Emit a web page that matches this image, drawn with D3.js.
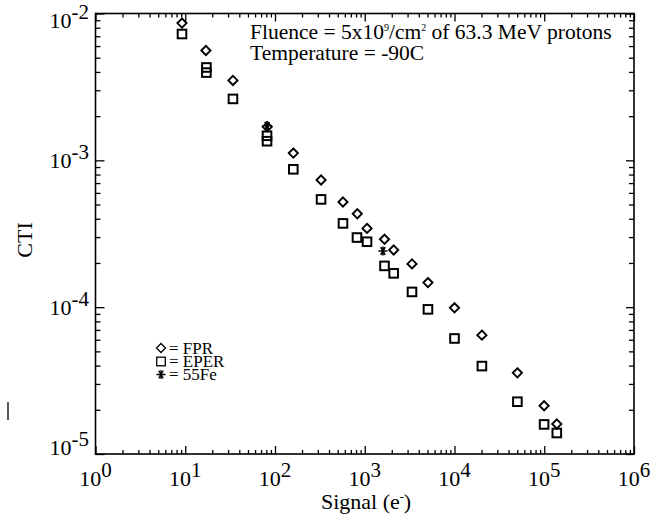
<!DOCTYPE html>
<html><head><meta charset="utf-8">
<script src="https://cdn.jsdelivr.net/npm/d3@7"></script>
<style>
html,body{margin:0;padding:0;background:#fff;}
svg{display:block;}
text{font-family:"Liberation Serif","DejaVu Serif",serif;fill:#000;}
</style></head>
<body>
<svg id="chart" width="663" height="516"></svg>
<script>
// ---- data ----
const fprSignal = [9.2, 17, 34, 82, 160, 326, 572, 826, 1060, 1660, 2100, 3360, 5060, 10000, 20200, 50200, 99600, 138000];
const fprCTI    = [8.6e-3, 5.6e-3, 3.5e-3, 1.69e-3, 1.12e-3, 7.35e-4, 5.2e-4, 4.33e-4, 3.44e-4, 2.9e-4, 2.45e-4, 1.97e-4, 1.47e-4, 9.9e-5, 6.45e-5, 3.57e-5, 2.13e-5, 1.6e-5];
const eperSignal = [9.2, 17.2, 17.2, 34, 81.5, 81.5, 160, 326, 572, 819, 1060, 1660, 2100, 3360, 5060, 10000, 20200, 50200, 99600, 138000];
const eperCTI    = [7.25e-3, 4.29e-3, 3.96e-3, 2.62e-3, 1.47e-3, 1.35e-3, 8.69e-4, 5.42e-4, 3.72e-4, 2.98e-4, 2.79e-4, 1.91e-4, 1.70e-4, 1.27e-4, 9.66e-5, 6.12e-5, 3.97e-5, 2.27e-5, 1.59e-5, 1.39e-5];
const feSignal = [81.5, 1595];
const feCTI    = [1.72e-3, 2.41e-4];
const xTickExp = [0, 1, 2, 3, 4, 5, 6];
const yTickExp = [-2, -3, -4, -5];
const legendLabels = ["= FPR", "= EPER", "= 55Fe"];

// ---- layout ----
const svg = d3.select("#chart");
const L = 95.5, R = 634, T = 13.5, B = 454;
const x = d3.scaleLog().domain([1, 1e6]).range([L, R]);
const y = d3.scaleLog().domain([1e-5, 1e-2]).range([B, T]);

const xMajor = xTickExp.map(e => Math.pow(10, e));
const xMinor = [];
for (let e = 0; e < 6; e++) for (let k = 2; k <= 9; k++) xMinor.push(k * Math.pow(10, e));
const yMajor = yTickExp.map(e => Math.pow(10, e));
const yMinor = [];
for (let e = -5; e < -2; e++) for (let k = 2; k <= 9; k++) yMinor.push(k * Math.pow(10, e));

function styleAxis(g) {
  g.selectAll(".domain").remove();
  g.selectAll(".tick line").attr("stroke", "#000").attr("stroke-width", 1.3);
  g.selectAll(".tick text").remove();
}
// bottom
svg.append("g").attr("transform", `translate(0,${B})`).call(d3.axisBottom(x).tickValues(xMajor).tickSize(-8).tickFormat("")).call(styleAxis);
svg.append("g").attr("transform", `translate(0,${B})`).call(d3.axisBottom(x).tickValues(xMinor).tickSize(-4).tickFormat("")).call(styleAxis);
// top
svg.append("g").attr("transform", `translate(0,${T})`).call(d3.axisTop(x).tickValues(xMajor).tickSize(-8).tickFormat("")).call(styleAxis);
svg.append("g").attr("transform", `translate(0,${T})`).call(d3.axisTop(x).tickValues(xMinor).tickSize(-4).tickFormat("")).call(styleAxis);
// left
svg.append("g").attr("transform", `translate(${L},0)`).call(d3.axisLeft(y).tickValues(yMajor).tickSize(-9).tickFormat("")).call(styleAxis);
svg.append("g").attr("transform", `translate(${L},0)`).call(d3.axisLeft(y).tickValues(yMinor).tickSize(-5).tickFormat("")).call(styleAxis);
// right
svg.append("g").attr("transform", `translate(${R},0)`).call(d3.axisRight(y).tickValues(yMajor).tickSize(-8).tickFormat("")).call(styleAxis);
svg.append("g").attr("transform", `translate(${R},0)`).call(d3.axisRight(y).tickValues(yMinor).tickSize(-5).tickFormat("")).call(styleAxis);

// frame
svg.append("rect").attr("x", L).attr("y", T).attr("width", R - L).attr("height", B - T)
  .attr("fill", "none").attr("stroke", "#000").attr("stroke-width", 1.6);

// tick labels
xTickExp.forEach(e => {
  const t = svg.append("text").attr("x", x(Math.pow(10, e))).attr("y", 486)
    .attr("text-anchor", "middle").attr("font-size", 22);
  t.append("tspan").text("10");
  t.append("tspan").attr("dy", -9).attr("font-size", 21).text(String(e));
});
yTickExp.forEach(e => {
  const v = Math.pow(10, e);
  const off = e === -2 ? 14 : (e === -5 ? 1 : 8);
  const t = svg.append("text").attr("x", 89).attr("y", y(v) + off)
    .attr("text-anchor", "end").attr("font-size", 22);
  t.append("tspan").text("10");
  t.append("tspan").attr("dy", -9).attr("font-size", 21).text(String(e));
});

// axis titles
const xt = svg.append("text").attr("x", 366).attr("y", 509).attr("text-anchor", "middle").attr("font-size", 22);
xt.append("tspan").text("Signal (e");
xt.append("tspan").attr("dy", -8).attr("font-size", 12).text("-");
xt.append("tspan").attr("dy", 8).text(")");
svg.append("text").attr("transform", "translate(32,240) rotate(-90)").attr("text-anchor", "middle")
  .attr("font-size", 22).text("CTI");

// annotation
const a1 = svg.append("text").attr("x", 250).attr("y", 39).attr("font-size", 21.5);
a1.append("tspan").text("Fluence = 5x10");
a1.append("tspan").attr("dy", -8).attr("font-size", 10).text("9");
a1.append("tspan").attr("dy", 8).text("/cm");
a1.append("tspan").attr("dy", -8).attr("font-size", 10).text("2");
a1.append("tspan").attr("dy", 8).text(" of 63.3 MeV protons");
svg.append("text").attr("x", 250).attr("y", 60).attr("font-size", 21.5).text("Temperature = -90C");

// markers
function diamond(g, cx, cy, r, sw) {
  g.append("path").attr("d", `M${cx},${cy - r}L${cx + r},${cy}L${cx},${cy + r}L${cx - r},${cy}Z`)
    .attr("fill", "none").attr("stroke", "#000").attr("stroke-width", sw);
}
function square(g, cx, cy, h, sw) {
  g.append("rect").attr("x", cx - h).attr("y", cy - h).attr("width", 2 * h).attr("height", 2 * h)
    .attr("fill", "none").attr("stroke", "#000").attr("stroke-width", sw);
}
function asterisk(g, cx, cy, r, sw) {
  const p = [];
  [0, 60, 120].forEach(a => {
    const rad = a * Math.PI / 180;
    p.push(`M${cx - r * Math.cos(rad)},${cy - r * Math.sin(rad)}L${cx + r * Math.cos(rad)},${cy + r * Math.sin(rad)}`);
  });
  p.push(`M${cx},${cy - r}L${cx},${cy + r}`);
  g.append("path").attr("d", p.join("")).attr("stroke", "#000").attr("stroke-width", sw).attr("fill", "none");
}
const pts = svg.append("g");
eperSignal.forEach((s, i) => square(pts, x(s), y(eperCTI[i]), 4.3, 2));
fprSignal.forEach((s, i) => diamond(pts, x(s), y(fprCTI[i]), 4.6, 1.9));
feSignal.forEach((s, i) => asterisk(pts, x(s), y(feCTI[i]), 4.5, 1.6));

// legend
const lg = svg.append("g");
const ly0 = 354, ldy = 13;
diamond(lg, 161, ly0 - 6, 4.5, 1.3);
square(lg, 161, ly0 + ldy - 5.5, 4.3, 1.3);
asterisk(lg, 161, ly0 + 2 * ldy - 5.5, 4.5, 1.3);
legendLabels.forEach((t, i) => {
  lg.append("text").attr("x", 169).attr("y", ly0 + i * ldy).attr("font-size", 17).text(t);
});

// stray mark at left edge
svg.append("line").attr("x1", 8).attr("x2", 8).attr("y1", 402).attr("y2", 420).attr("stroke", "#000").attr("stroke-width", 1.3);
</script>
</body></html>
